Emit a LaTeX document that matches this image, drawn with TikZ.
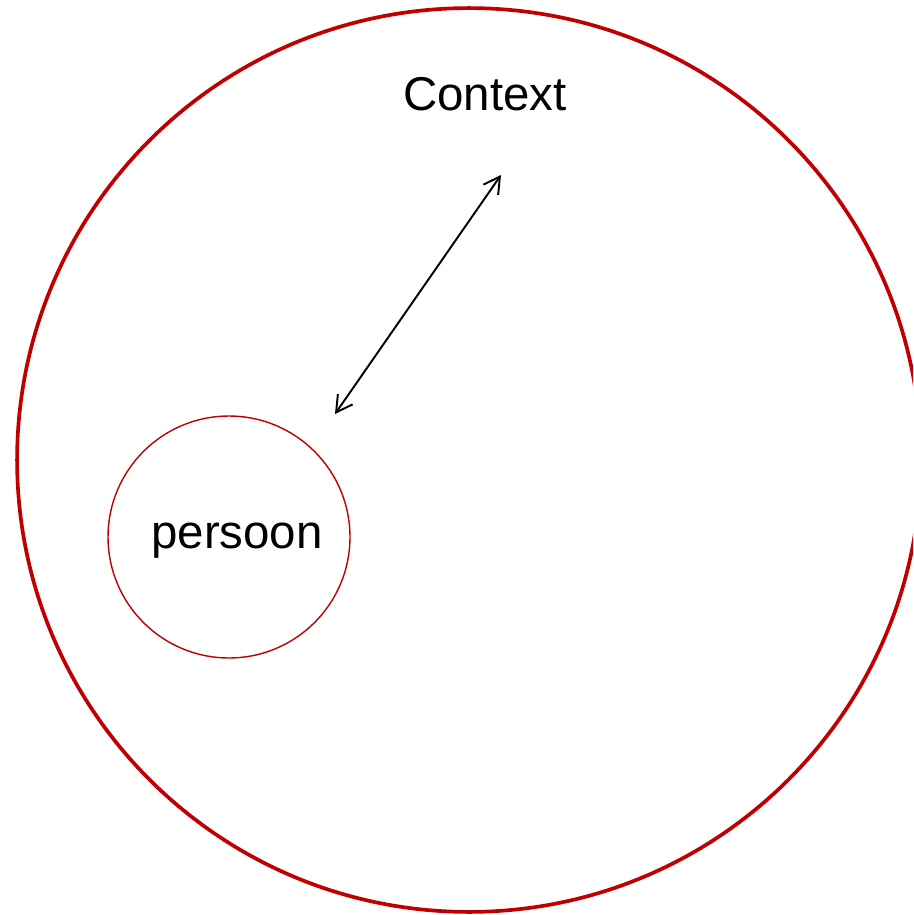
\documentclass[tikz,border=0pt]{standalone}
\usepackage{fontspec}
\setmainfont{Liberation Sans}
\usetikzlibrary{arrows.meta}
\definecolor{CtxRed}{HTML}{C00000}
\definecolor{CtxInk}{HTML}{000000}
\tikzset{
  relation/.style={{Straight Barb[length=3.2mm,width=3.6mm]}-{Straight Barb[length=3.2mm,width=3.6mm]},CtxInk,line width=1.1pt},
  world/.style={circle,draw=CtxRed,line width=2.1pt,minimum size=18.08cm,inner sep=0pt},
  self/.style={circle,draw=CtxRed,line width=0.8pt,minimum size=4.84cm,inner sep=0pt},
  heading/.style={text=CtxInk,font=\fontsize{27}{32}\selectfont,inner sep=0pt,anchor=base},
}
\begin{document}
\begin{tikzpicture}[x=0.02cm,y=-0.02cm]
  \useasboundingbox (0,0) rectangle (913,915);
  \clip (0,0) rectangle (913,915);
  % outer ring and the person inside it
  \node[world] (context) at (469,460) {};
  \node[heading] (contextlabel) at (485,111) {Context};
  \node[self] (persoon) at (229,537) {};
  \node[heading] (persoonlabel) at (237,548) {persoon};

  \coordinate (near) at (335,414);
  \coordinate (far) at (501,175);
  \draw[relation] (near)--(far);
\end{tikzpicture}
\end{document}
